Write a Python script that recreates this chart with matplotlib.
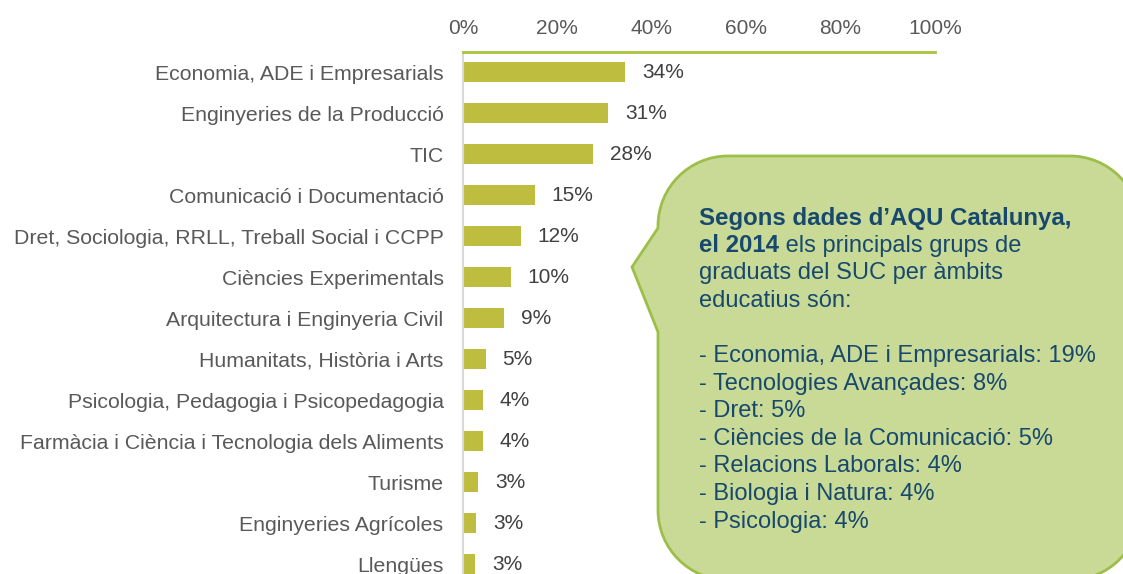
import numpy as np
import matplotlib.pyplot as plt
from matplotlib.path import Path
from matplotlib.patches import PathPatch
from matplotlib.transforms import Affine2D

W, H = 1123, 574

categories = [
    "Economia, ADE i Empresarials",
    "Enginyeries de la Producció",
    "TIC",
    "Comunicació i Documentació",
    "Dret, Sociologia, RRLL, Treball Social i CCPP",
    "Ciències Experimentals",
    "Arquitectura i Enginyeria Civil",
    "Humanitats, Història i Arts",
    "Psicologia, Pedagogia i Psicopedagogia",
    "Farmàcia i Ciència i Tecnologia dels Aliments",
    "Turisme",
    "Enginyeries Agrícoles",
    "Llengües",
]
shares = [34.4, 30.8, 27.6, 15.2, 12.2, 10.1, 8.7, 4.8, 4.3, 4.2, 3.2, 2.8, 2.6]
share_labels = [34, 31, 28, 15, 12, 10, 9, 5, 4, 4, 3, 3, 3]
xticks = [0, 20, 40, 60, 80, 100]

note_head = ["Segons dades d\u2019AQU Catalunya,", "el 2014"]
note_body = [" els principals grups de", "graduats del SUC per àmbits", "educatius són:"]
note_list = [
    "- Economia, ADE i Empresarials: 19%",
    "- Tecnologies Avançades: 8%",
    "- Dret: 5%",
    "- Ciències de la Comunicació: 5%",
    "- Relacions Laborals: 4%",
    "- Biologia i Natura: 4%",
    "- Psicologia: 4%",
]

bar_color = "#BFBD40"
top_color = "#A9C43F"
text_grey = "#595959"
note_color = "#17496E"

plt.rcParams["font.family"] = ["Liberation Sans", "DejaVu Sans"]

fig = plt.figure(figsize=(W / 100, H / 100), dpi=100)
ax = fig.add_axes([463 / W, 0, (935 - 463) / W, 1 - 52 / H])

y = np.arange(len(categories))
ax.barh(y, shares, height=0.49, color=bar_color)
for yi, v, lab in zip(y, shares, share_labels):
    ax.annotate(f"{lab}%", (v, yi), xytext=(12, 0), textcoords="offset points",
                va="center", ha="left", fontsize=15, color="#404040")

ax.set_xlim(0, 100)
ax.set_ylim(12.24, -0.49)
ax.xaxis.tick_top()
ax.set_xticks(xticks)
ax.set_xticklabels([f"{v}%" for v in xticks])
ax.set_yticks(y)
ax.set_yticklabels(categories)
ax.tick_params(axis="x", length=0, pad=10, labelsize=15, labelcolor=text_grey)
ax.tick_params(axis="y", length=0, pad=14, labelsize=15.3, labelcolor=text_grey)
for s in ["right", "bottom"]:
    ax.spines[s].set_visible(False)
ax.spines["top"].set_color(top_color)
ax.spines["top"].set_linewidth(2)
ax.spines["left"].set_color("#D9D9D9")
ax.spines["left"].set_linewidth(1.5)

# callout bubble, drawn in pixel coords (y down)
px = Affine2D().scale(1 / W, -1 / H).translate(0, 1) + fig.transFigure
L, T, R, B, r = 658, 156, 1140, 580, 70
k = 0.5523 * r
verts = [
    (L + r, T), (R - r, T),
    (R - r + k, T), (R, T + r - k), (R, T + r),
    (R, B - r),
    (R, B - r + k), (R - r + k, B), (R - r, B),
    (L + r, B),
    (L + r - k, B), (L, B - r + k), (L, B - r),
    (L, 332), (632, 267), (L, 228), (L, T + r),
    (L, T + r - k), (L + r - k, T), (L + r, T),
    (L + r, T),
]
codes = [Path.MOVETO, Path.LINETO,
         Path.CURVE4, Path.CURVE4, Path.CURVE4,
         Path.LINETO,
         Path.CURVE4, Path.CURVE4, Path.CURVE4,
         Path.LINETO,
         Path.CURVE4, Path.CURVE4, Path.CURVE4,
         Path.LINETO, Path.LINETO, Path.LINETO, Path.LINETO,
         Path.CURVE4, Path.CURVE4, Path.CURVE4,
         Path.CLOSEPOLY]
bubble = PathPatch(Path(verts, codes), transform=px, facecolor="#C9DA96",
                   edgecolor="#9DBE48", linewidth=2)
fig.add_artist(bubble)

tx, ty0, dy = 699, 218, 27.6
fs = 17
fig.text(tx / W, 1 - ty0 / H, note_head[0], fontsize=fs + 0.3, fontweight="bold",
         color=note_color, va="center", ha="left")
t2 = fig.text(tx / W, 1 - (ty0 + dy) / H, note_head[1], fontsize=fs + 0.3,
              fontweight="bold", color=note_color, va="center", ha="left")
renderer = fig.canvas.get_renderer()
bb = t2.get_window_extent(renderer)
fig.text(bb.x1 / W, 1 - (ty0 + dy) / H, note_body[0], fontsize=fs,
         color=note_color, va="center", ha="left")
for i, line in enumerate(note_body[1:]):
    fig.text(tx / W, 1 - (ty0 + dy * (i + 2)) / H, line, fontsize=fs,
             color=note_color, va="center", ha="left")
for i, line in enumerate(note_list):
    fig.text(tx / W, 1 - (ty0 + dy * (i + 5)) / H, line, fontsize=fs,
             color=note_color, va="center", ha="left")

fig.savefig("out.png", dpi=100)
